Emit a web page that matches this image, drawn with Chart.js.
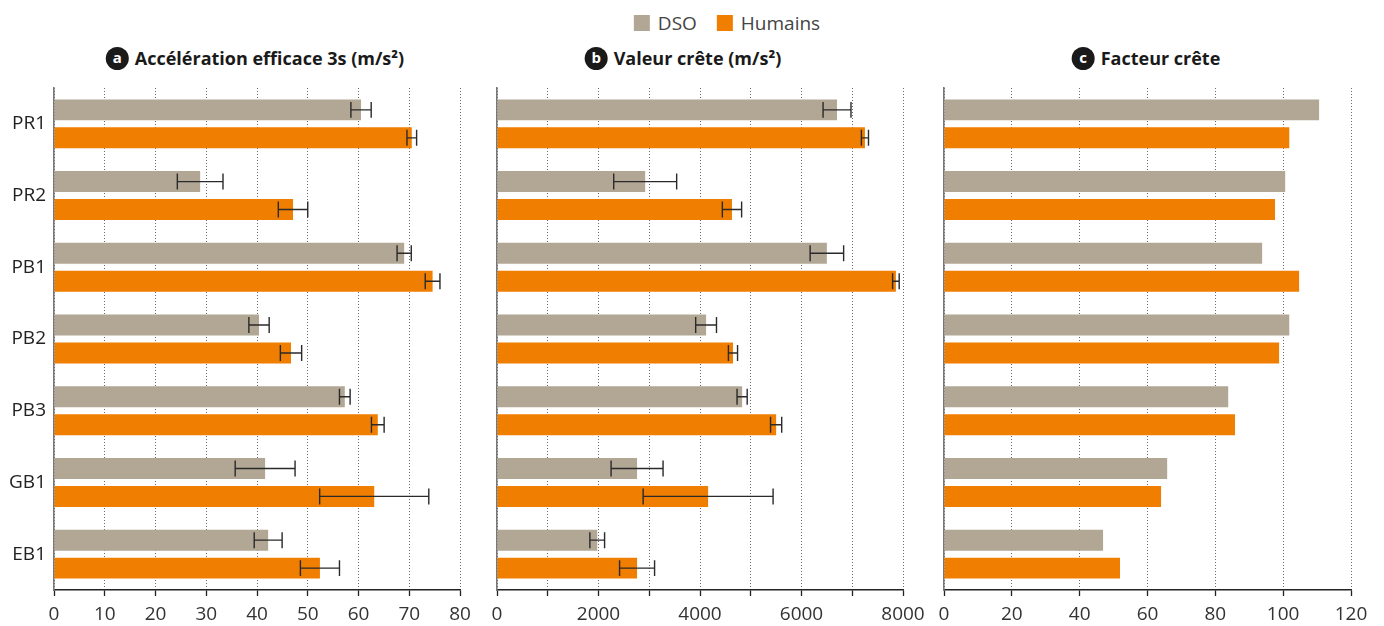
<!DOCTYPE html>
<html>
<head>
<meta charset="utf-8">
<script src="https://cdn.jsdelivr.net/npm/chart.js@4/dist/chart.umd.min.js"></script>
<style>
  html, body { margin:0; padding:0; background:#fff; }
  body { width:1384px; height:626px; position:relative; overflow:hidden; font-family:'Open Sans', sans-serif; }
  .cv { position:absolute; }
  .legend { position:absolute; top:10px; left:727px; transform:translateX(-50%); display:flex; align-items:center; font-size:19px; color:#444; white-space:nowrap; }
  .legend .sw { width:16px; height:16px; display:inline-block; margin-right:8px; }
  .legend .item { display:flex; align-items:center; }
  .legend .item.first { margin-right:20px; }
  .title { position:absolute; top:46px; transform:translateX(-50%); display:flex; align-items:center; font-size:18px; font-weight:700; color:#1a1a1a; white-space:nowrap; }
  .badge { width:23px; height:23px; border-radius:50%; background:#1a1a1a; color:#fff; font-size:15px; font-weight:700; display:inline-flex; align-items:center; justify-content:center; margin-right:6px; line-height:1; padding-bottom:2px; box-sizing:border-box; }
</style>
</head>
<body>
<div class="legend">
  <span class="item first"><span class="sw" style="background:#b2a795"></span>DSO</span>
  <span class="item"><span class="sw" style="background:#f07e00"></span>Humains</span>
</div>
<div class="title" style="left:255px"><span class="badge">a</span>Accélération efficace 3s (m/s²)</div>
<div class="title" style="left:683px"><span class="badge">b</span>Valeur crête (m/s²)</div>
<div class="title" style="left:1146px"><span class="badge">c</span>Facteur crête</div>

<canvas id="ca" class="cv" style="left:0px;top:80px" width="472" height="546"></canvas>
<canvas id="cb" class="cv" style="left:472px;top:80px" width="458" height="546"></canvas>
<canvas id="cc" class="cv" style="left:930px;top:80px" width="454" height="546"></canvas>

<script>
// ---- data ----
const categories = ['PR1', 'PR2', 'PB1', 'PB2', 'PB3', 'GB1', 'EB1'];
const seriesNames = ['DSO', 'Humains'];

// a: Accélération efficace 3s (m/s²)
const rmsDSO      = [60.5, 28.8, 69.0, 40.4, 57.3, 41.6, 42.2];
const rmsDSOErr   = [2.0, 4.5, 1.4, 2.0, 1.05, 5.9, 2.75];
const rmsHum      = [70.5, 47.1, 74.6, 46.7, 63.8, 63.1, 52.4];
const rmsHumErr   = [0.95, 2.9, 1.45, 2.1, 1.25, 10.75, 3.85];

// b: Valeur crête (m/s²)
const peakDSO     = [6700, 2920, 6500, 4120, 4830, 2760, 1975];
const peakDSOErr  = [275, 620, 330, 205, 100, 512, 145];
const peakHum     = [7250, 4630, 7860, 4650, 5500, 4160, 2760];
const peakHumErr  = [70, 190, 65, 90, 110, 1280, 345];

// c: Facteur crête
const cfDSO       = [110.6, 100.6, 93.8, 101.8, 83.8, 65.8, 46.9];
const cfHum       = [101.8, 97.6, 104.7, 98.8, 85.8, 64.0, 51.9];

// x-axis ranges / ticks
const axisA = { max: 80, step: 10, labelEvery: 10 };
const axisB = { max: 8000, step: 1000, labelEvery: 2000 };
const axisC = { max: 120, step: 20, labelEvery: 20 };

const colDSO = '#b2a795';
const colHum = '#f07e00';

Chart.defaults.font.family = "'Open Sans', sans-serif";
Chart.defaults.animation = false;

const errorBars = {
  id: 'errorBars',
  afterDatasetsDraw(chart) {
    const ctx = chart.ctx;
    const xs = chart.scales.x;
    chart.data.datasets.forEach((ds, i) => {
      if (!ds.errors) return;
      const meta = chart.getDatasetMeta(i);
      meta.data.forEach((bar, j) => {
        const v = ds.data[j], e = ds.errors[j];
        const x1 = xs.getPixelForValue(v - e);
        const x2 = xs.getPixelForValue(v + e);
        const y = bar.y;
        const h = bar.height * 0.38;
        ctx.save();
        ctx.strokeStyle = '#2a2a2a';
        ctx.lineWidth = 1.4;
        ctx.beginPath();
        ctx.moveTo(x1, y); ctx.lineTo(x2, y);
        ctx.moveTo(x1, y - h); ctx.lineTo(x1, y + h);
        ctx.moveTo(x2, y - h); ctx.lineTo(x2, y + h);
        ctx.stroke();
        ctx.restore();
      });
    });
  }
};

function makeChart(id, d1, e1, d2, e2, axis, yWidth, padRight, showLabels) {
  return new Chart(document.getElementById(id), {
    type: 'bar',
    data: {
      labels: categories,
      datasets: [
        { label: seriesNames[0], data: d1, errors: e1, backgroundColor: colDSO, categoryPercentage: 0.78, barPercentage: 0.75 },
        { label: seriesNames[1], data: d2, errors: e2, backgroundColor: colHum, categoryPercentage: 0.78, barPercentage: 0.75 }
      ]
    },
    options: {
      indexAxis: 'y',
      responsive: false,
      maintainAspectRatio: false,
      layout: { padding: { top: 8, right: padRight, left: 0, bottom: 0 } },
      plugins: { legend: { display: false }, title: { display: false }, tooltip: { enabled: false } },
      scales: {
        x: {
          min: 0, max: axis.max,
          ticks: {
            stepSize: axis.step,
            color: '#333',
            font: { size: 19 },
            padding: 7,
            maxRotation: 0,
            autoSkip: false,
            callback: (v) => (v % axis.labelEvery === 0 ? String(v) : '')
          },
          grid: { color: '#6a6a6a', lineWidth: 1, drawTicks: true, tickLength: 6, tickColor: '#222', tickWidth: 1.3 },
          border: { display: true, color: '#222', width: 1.4, dash: [1, 2] },
          afterFit: (s) => { s.height = 36; s.paddingLeft = 0; s.paddingRight = 0; }
        },
        y: {
          ticks: { display: showLabels, color: '#222', font: { size: 19 }, padding: 8 },
          grid: { display: false, drawTicks: false },
          border: { display: true, color: '#777', width: 1.6 },
          afterFit: (s) => { s.width = yWidth; s.paddingTop = 0; s.paddingBottom = 0; }
        }
      }
    },
    plugins: [errorBars]
  });
}

makeChart('ca', rmsDSO, rmsDSOErr, rmsHum, rmsHumErr, axisA, 54, 12, true);
makeChart('cb', peakDSO, peakDSOErr, peakHum, peakHumErr, axisB, 25, 27, false);
makeChart('cc', cfDSO, null, cfHum, null, axisC, 14, 33, false);
</script>
</body>
</html>
